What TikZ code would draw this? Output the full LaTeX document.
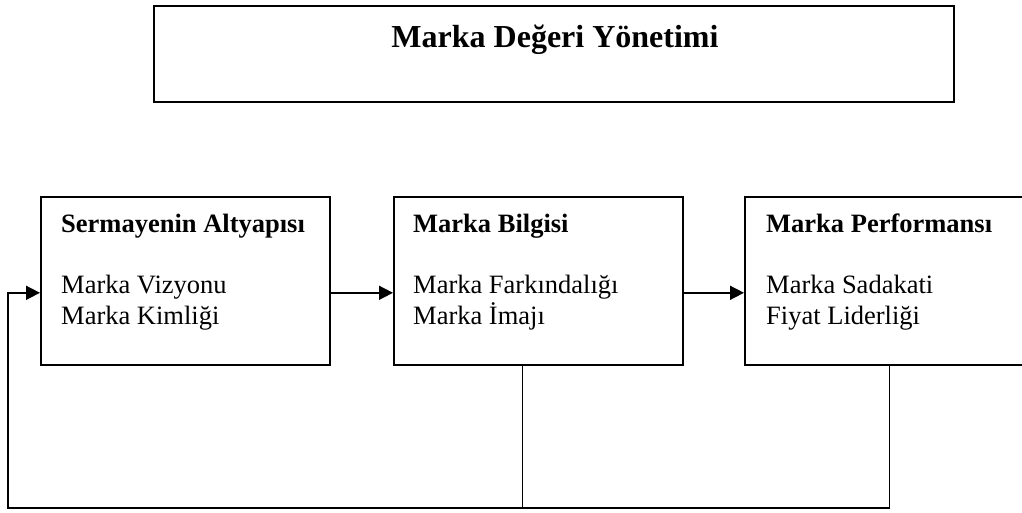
\documentclass[tikz,border=0pt]{standalone}
\usepackage{fontspec}
\setmainfont{Liberation Serif}
\usepackage{tikz}
\usetikzlibrary{arrows.meta,positioning}
\tikzstyle{Tbox}=[shape=rectangle,draw=black,line width=2pt,minimum width=800pt,minimum height=96pt,inner sep=0pt,anchor=north west]
\tikzstyle{Kbox}=[shape=rectangle,draw=black,line width=1.6pt,minimum width=289pt,minimum height=168pt,inner sep=0pt,anchor=north west]
\tikzstyle{Ktext}=[align=left,inner sep=0pt,anchor=north west,font=\fontsize{26.5}{30.5}\selectfont]
\tikzstyle{Kedge}=[-{Triangle[length=14pt,width=14pt]},line width=1.6pt]
\tikzstyle{Kline}=[line width=1.6pt]

\begin{document}
\begin{tikzpicture}[x=1pt,y=1pt]
 \useasboundingbox (0,0) rectangle (1022,-512);

 \node[Tbox] (top) at (153,-5) {};
 \node[font=\fontsize{32}{36}\selectfont\bfseries,anchor=base] (title) at (555,-47) {Marka Değeri Yönetimi};

\node[Kbox] (b1) at (40,-196) {};
\node[Ktext] (t1) at (61,-214) {\textbf{Sermayenin Altyapısı}\\[30.5pt]Marka Vizyonu\\Marka Kimliği};

\node[Kbox] (b2) at (393,-196) {};
\node[Ktext] (t2) at (413,-214) {\textbf{Marka Bilgisi}\\[30.5pt]Marka Farkındalığı\\Marka İmajı};

\node[Kbox] (b3) at (744,-196) {};
\node[Ktext] (t3) at (766,-214) {\textbf{Marka Performansı}\\[30.5pt]Marka Sadakati\\Fiyat Liderliği};

\coordinate (loopL) at (8,-508);

\path
([yshift=-12pt]b1.east) edge [Kedge] ([yshift=-12pt]b2.west)
([yshift=-12pt]b2.east) edge [Kedge] ([yshift=-12pt]b3.west);

\draw[Kedge] (b3.south) |- (loopL) |- ([yshift=-12pt]b1.west);
\draw[Kline] ([xshift=-16pt]b2.south) -- ([xshift=-16pt]b2.south |- loopL);

\end{tikzpicture}
\end{document}
